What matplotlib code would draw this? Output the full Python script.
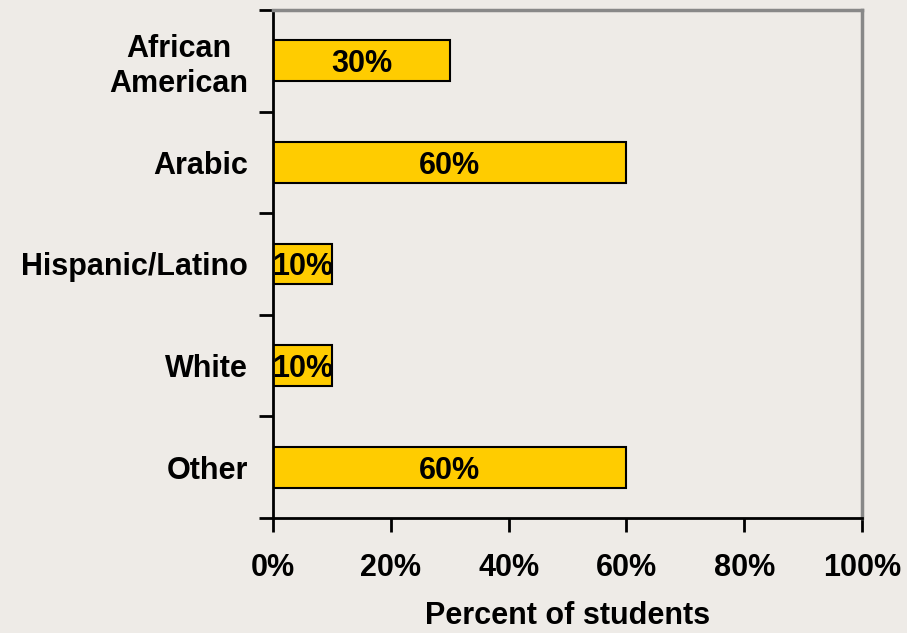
import matplotlib.pyplot as plt
import numpy as np

categories = ['African\nAmerican', 'Arabic', 'Hispanic/Latino', 'White', 'Other']
percents = [30, 60, 10, 10, 60]
xticks = [0, 20, 40, 60, 80, 100]

BG = '#EEEBE7'
plt.rcParams['font.family'] = ['Liberation Sans', 'DejaVu Sans']
plt.rcParams['font.weight'] = 'bold'

fig = plt.figure(figsize=(9.07, 6.33), dpi=100, facecolor=BG)
ax = fig.add_axes([0.301, 0.1817, 0.6494, 0.8025], facecolor=BG)

pos = np.arange(len(categories))
bars = ax.barh(pos, percents, height=0.4, color='#FFCC00', edgecolor='black', linewidth=1.5)

for b, v in zip(bars, percents):
    ax.text(b.get_width() / 2, b.get_y() + b.get_height() / 2, f'{v}%',
            ha='center', va='center_baseline', fontsize=22, fontweight='bold')

ax.set_xlim(0, 100)
ax.set_ylim(len(categories) - 0.5, -0.5)

ax.set_yticks(pos)
ax.set_yticklabels(categories, fontsize=22, fontweight='bold', multialignment='center')
ax.tick_params(axis='y', which='major', length=0, pad=18)
ax.set_yticks(np.arange(len(categories) + 1) - 0.5, minor=True)
ax.tick_params(axis='y', which='minor', length=10, width=2, direction='out')

ax.set_xticks(xticks)
ax.set_xticklabels([f'{t}%' for t in xticks], fontsize=22, fontweight='bold')
ax.tick_params(axis='x', length=10, width=2, direction='out', pad=15)

ax.set_xlabel('Percent of students', fontsize=22, fontweight='bold', labelpad=13)

for s in ['left', 'bottom']:
    ax.spines[s].set_color('black')
    ax.spines[s].set_linewidth(2)
for s in ['top', 'right']:
    ax.spines[s].set_color('#888888')
    ax.spines[s].set_linewidth(2.5)

fig.savefig('out.png', dpi=100, facecolor=BG)
